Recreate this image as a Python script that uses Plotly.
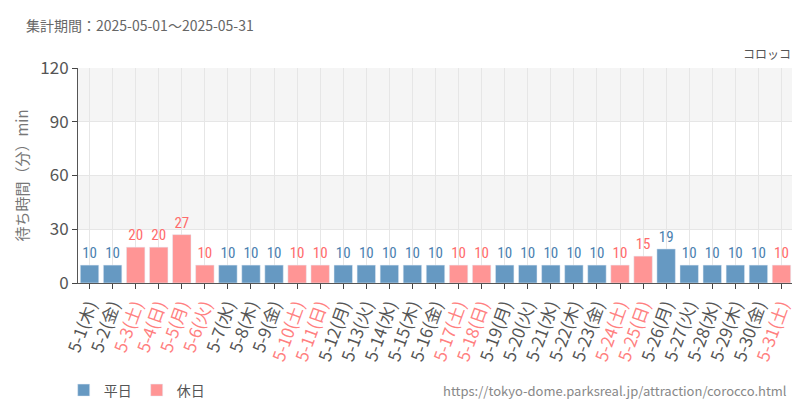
import plotly.graph_objects as go

days = [f"5-{d}" for d in range(1, 32)]
weekdays = ["木","金","土","日","月","火","水"]
dow = [weekdays[(d - 1) % 7] for d in range(1, 32)]
values = [10,10,20,20,27,10,10,10,10,10,10,10,10,10,10,10,10,10,10,10,10,10,10,10,15,19,10,10,10,10,10]
holidays = {"5-3","5-4","5-5","5-6","5-10","5-11","5-17","5-18","5-24","5-25","5-31"}
BLUE, PINK = "#6699c2", "#ff9595"
BLUE_T, PINK_T = "#4a7fb0", "#ff6b6b"

fig = go.Figure()
for name, col, tcol, hol in [("平日", BLUE, BLUE_T, False), ("休日", PINK, PINK_T, True)]:
    xs = [d for d in days if (d in holidays) == hol]
    ys = [v for d, v in zip(days, values) if (d in holidays) == hol]
    fig.add_bar(x=xs, y=ys, name=name, marker_color=col, text=ys, textposition="outside",
                textfont=dict(color=tcol, size=15, family="Roboto Condensed, Noto Sans CJK JP"),
                cliponaxis=False)

ticktext = [f'<span style="color:{"#ff8080" if d in holidays else "#555"}">{d}({w})</span>' for d, w in zip(days, dow)]
for y0, y1 in [(30, 60), (90, 120)]:
    fig.add_shape(type="rect", xref="paper", x0=0, x1=1, y0=y0, y1=y1, fillcolor="#f5f5f5", line_width=0, layer="below")

fig.update_layout(
    width=800, height=400, plot_bgcolor="white", paper_bgcolor="white",
    margin=dict(l=70, r=15, t=60, b=125, autoexpand=False), bargap=0.2, barmode="overlay",
    font=dict(family="Noto Sans CJK JP", color="#555"),
    legend=dict(orientation="h", x=-0.02, y=-0.50, xanchor="left", yanchor="middle", font=dict(size=14)),
    annotations=[
        dict(text="集計期間：2025-05-01～2025-05-31", xref="paper", yref="paper", x=-0.075, y=1.2,
             xanchor="left", yanchor="middle", showarrow=False, font=dict(size=14, color="#666")),
        dict(text="コロッコ", xref="paper", yref="paper", x=1, y=1.02, xanchor="right", yanchor="bottom",
             showarrow=False, font=dict(size=12, color="#555")),
        dict(text="https://tokyo-dome.parksreal.jp/attraction/corocco.html", xref="paper", yref="paper",
             x=0.995, y=-0.50, xanchor="right", yanchor="middle", showarrow=False, font=dict(size=13, color="#888")),
    ],
)
fig.update_xaxes(categoryorder="array", categoryarray=days, tickmode="array", tickvals=days, ticktext=ticktext,
                 tickangle=-70, tickfont=dict(size=17), showgrid=True, gridcolor="#e6e6e6", automargin=False,
                 ticks="outside", ticklen=5, showline=True, linecolor="#555")
fig.update_yaxes(range=[0, 120], tickvals=[0, 30, 60, 90, 120], tickfont=dict(size=17), automargin=False,
                 title=dict(text="待ち時間（分）min", font=dict(size=15, color="#777"), standoff=8),
                 showgrid=True, gridcolor="#e6e6e6", ticks="outside", ticklen=5, showline=True, linecolor="#555",
                 zeroline=False)
fig.write_html("out.html")
